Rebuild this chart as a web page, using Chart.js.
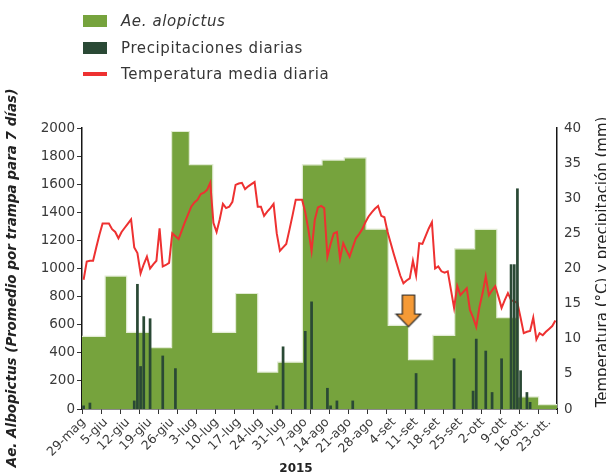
<!DOCTYPE html>
<html>
<head>
<meta charset="utf-8">
<script src="https://cdn.jsdelivr.net/npm/chart.js@4/dist/chart.umd.min.js"></script>
<style>
  html, body { margin: 0; padding: 0; background: #fff; }
  #wrap { position: relative; width: 606px; height: 473px; overflow: hidden; }
  #chart { position: absolute; left: 0; top: 0; }
  #legend { position: absolute; left: 83px; top: 0; font-family: 'DejaVu Sans', sans-serif;
            font-size: 15px; color: #363636; letter-spacing: 0.6px; }
  #legend .row { position: absolute; left: 0; height: 27px; display: flex; align-items: center; white-space: nowrap; }
  #legend .sw { width: 24px; margin-right: 14px; flex: none; }
</style>
</head>
<body>
<div id="wrap">
  <canvas id="chart" width="606" height="473"></canvas>
  <div id="legend"></div>
</div>
<script>
// Weekly labels on the date axis (day 0 = 29 May 2015, one label every 7 days)
const weekLabels = ['29-mag', '5-giu', '12-giu', '19-giu', '26-giu', '3-lug', '10-lug', '17-lug',
  '24-lug', '31-lug', '7-ago', '14-ago', '21-ago', '28-ago', '4-set', '11-set', '18-set',
  '25-set', '2-ott', '9-ott', '16-ott.', '23-ott.'];

// Trap collection periods: first day of each period (days since 29 May) and mean catch per trap
const trapStartDay = [0, 7.3, 14.1, 21.5, 28.3, 33.9, 41.3, 48.5, 55.5, 61.8, 69.6,
  75.8, 82.8, 89.7, 96.7, 103.1, 110.8, 117.7, 124.0, 131.0, 137.9, 144.2];
const trapLastDay = 150;
const aeAlbopictus = [517, 946, 545, 437, 1975, 1740, 545, 822, 263, 333, 1738,
  1772, 1788, 1280, 595, 351, 524, 1140, 1279, 650, 86, 31];

// Daily mean temperature (°C), 29 May - 25 Oct
const temperature = [
  18.4, 21.0, 21.1, 21.1, 23.0, 24.8, 26.4, 26.4, 26.4, 25.6,
  25.2, 24.3, 25.2, 25.8, 26.4, 27.0, 23.0, 22.2, 19.3, 20.6,
  21.7, 20.0, 20.6, 21.1, 25.7, 20.3, 20.5, 20.8, 25.0, 24.6,
  24.2, 25.4, 26.6, 27.7, 28.8, 29.4, 29.8, 30.6, 30.8, 31.2,
  32.2, 26.5, 25.2, 27.0, 29.2, 28.6, 28.8, 29.5, 31.9, 32.1,
  32.2, 31.3, 31.7, 32.0, 32.3, 28.8, 28.8, 27.5, 28.1, 28.6,
  29.2, 25.0, 22.5, 23.0, 23.5, 25.5, 27.6, 29.8, 29.8, 29.8,
  28.0, 25.5, 22.5, 26.9, 28.7, 28.9, 28.6, 21.7, 23.5, 25.0,
  25.2, 21.4, 23.6, 22.6, 21.7, 23.0, 24.3, 24.9, 25.6, 26.6,
  27.4, 28.0, 28.5, 28.9, 27.5, 27.3, 25.2, 23.6, 22.0, 20.5,
  19.0, 17.9, 18.3, 18.6, 21.1, 19.0, 23.6, 23.5, 24.6, 25.7,
  26.6, 20.0, 20.3, 19.6, 19.4, 19.6, 17.0, 14.4, 17.5, 16.2,
  16.7, 17.2, 14.1, 13.0, 11.7, 14.5, 16.5, 18.9, 16.2, 16.9,
  17.5, 16.0, 14.4, 15.5, 16.5, 15.5, 15.3, 15.1, 13.0, 10.8,
  11.0, 11.1, 13.0, 9.9, 10.8, 10.5, 11.0, 11.4, 11.8, 12.6
];

// Daily rainfall (mm), same days
const rainfall = [
  0.5, 0, 0.9, 0, 0, 0, 0, 0, 0, 0,
  0, 0, 0, 0, 0, 0, 1.2, 17.8, 6.1, 13.2,
  0, 12.9, 0, 0, 0, 7.6, 0, 0, 0, 5.8,
  0, 0, 0, 0, 0, 0, 0, 0, 0, 0,
  0, 0, 0, 0, 0, 0, 0, 0, 0, 0,
  0, 0, 0, 0, 0, 0, 0, 0, 0, 0,
  0, 0.5, 0, 8.9, 0, 0, 0, 0, 0, 0,
  11.1, 0, 15.3, 0, 0, 0, 0, 3.0, 0.5, 0,
  1.2, 0, 0, 0, 0, 1.2, 0, 0, 0, 0,
  0, 0, 0, 0, 0, 0, 0, 0, 0, 0,
  0, 0, 0, 0, 0, 5.1, 0, 0, 0, 0,
  0, 0, 0, 0, 0, 0, 0, 7.2, 0, 0,
  0, 0, 0, 2.6, 10.0, 0, 0, 8.3, 0, 2.4,
  0, 0, 7.2, 0, 0, 20.6, 20.6, 31.4, 5.5, 0,
  2.4, 1.0, 0, 0, 0, 0, 0, 0, 0, 0
];

// Arrow marking the start of the period after 11 September
const arrowMark = [{ x: 103.1, y: 580 }];

const leftTitle = 'Ae. Albopictus (Promedio por trampa para 7 días)';
const rightTitle = 'Temperatura (°C) y precipitación (mm)';
const bottomTitle = '2015';

const FONT = "'DejaVu Sans', sans-serif";
const TICK_COLOR = '#3a3a3a';
const AXIS_COLOR = '#161616';

// Step outline of the weekly trap catches
const trapSteps = trapStartDay.map((d, k) => ({ x: d, y: aeAlbopictus[k] }))
  .concat([{ x: trapLastDay, y: aeAlbopictus[aeAlbopictus.length - 1] }]);
const tempPoints = temperature.map((t, i) => ({ x: i + 0.5, y: t }));
const rainPoints = rainfall.map((r, i) => ({ x: i + 0.5, y: r }));

function arrowImage() {
  const c = document.createElement('canvas');
  c.width = 28; c.height = 70;
  const g = c.getContext('2d');
  const cx = 14, tip = 35;
  g.beginPath();
  g.moveTo(cx - 6.2, tip - 32.5);
  g.lineTo(cx + 6.2, tip - 32.5);
  g.lineTo(cx + 6.2, tip - 13.5);
  g.lineTo(cx + 12.3, tip - 13.5);
  g.lineTo(cx, tip - 0.8);
  g.lineTo(cx - 12.3, tip - 13.5);
  g.lineTo(cx - 6.2, tip - 13.5);
  g.closePath();
  g.fillStyle = '#f59a36';
  g.fill();
  g.lineWidth = 1.2;
  g.strokeStyle = '#262626';
  g.stroke();
  return c;
}

// Legend written as HTML from the datasets (allows italic species name)
const htmlLegend = {
  id: 'htmlLegend',
  afterUpdate(chart) {
    const box = document.getElementById('legend');
    box.innerHTML = '';
    const rowTops = [7, 34, 60];
    let r = 0;
    chart.data.datasets.forEach(ds => {
      if (!ds.legendKind) return;
      const row = document.createElement('div');
      row.className = 'row';
      row.style.top = rowTops[r++] + 'px';
      const sw = document.createElement('span');
      sw.className = 'sw';
      if (ds.legendKind === 'line') {
        sw.style.height = '4px';
        sw.style.background = ds.borderColor;
      } else {
        sw.style.height = '12px';
        sw.style.background = ds.backgroundColor;
      }
      const tx = document.createElement('span');
      tx.textContent = ds.label;
      if (ds.legendItalic) tx.style.fontStyle = 'italic';
      row.appendChild(sw);
      row.appendChild(tx);
      box.appendChild(row);
    });
  }
};

// Axis titles (right one reads bottom-to-top)
const axisTitles = {
  id: 'axisTitles',
  afterDraw(chart) {
    const ctx = chart.ctx;
    ctx.save();
    ctx.fillStyle = '#222';
    ctx.textAlign = 'center';

    ctx.font = 'italic bold 13.5px ' + FONT;
    ctx.textBaseline = 'middle';
    ctx.setTransform(1, 0, 0, 1, 12, 278);
    ctx.rotate(-Math.PI / 2);
    ctx.fillText(leftTitle, 0, 0);

    ctx.font = '15px ' + FONT;
    ctx.textBaseline = 'alphabetic';
    ctx.setTransform(1, 0, 0, 1, 607, 262);
    ctx.rotate(-Math.PI / 2);
    ctx.fillText(rightTitle, 0, 0);

    ctx.setTransform(1, 0, 0, 1, 0, 0);
    ctx.font = 'bold 12px ' + FONT;
    ctx.fillText(bottomTitle, 296, 472);
    ctx.restore();
  }
};

Chart.defaults.font.family = FONT;
Chart.defaults.color = TICK_COLOR;

const plainNumber = v => String(v);

new Chart(document.getElementById('chart'), {
  data: {
    datasets: [
      {
        type: 'line',
        label: 'Ae. alopictus',
        legendKind: 'box',
        legendItalic: true,
        data: trapSteps,
        yAxisID: 'y',
        xAxisID: 'x',
        stepped: 'before',
        fill: 'origin',
        backgroundColor: '#76a33d',
        borderColor: 'rgba(226, 236, 212, 1)',
        borderWidth: 1.2,
        pointRadius: 0,
        order: 3
      },
      {
        type: 'bar',
        label: 'Precipitaciones diarias',
        legendKind: 'box',
        data: rainPoints,
        yAxisID: 'y2',
        xAxisID: 'x',
        backgroundColor: '#2a4935',
        borderWidth: 0,
        categoryPercentage: 1,
        barPercentage: 0.86,
        order: 1
      },
      {
        type: 'line',
        label: 'Temperatura media diaria',
        legendKind: 'line',
        data: tempPoints,
        yAxisID: 'y2',
        xAxisID: 'x',
        borderColor: '#ee3131',
        backgroundColor: '#ee3131',
        borderWidth: 2,
        pointRadius: 0,
        tension: 0,
        fill: false,
        order: 2
      },
      {
        type: 'scatter',
        label: 'arrow',
        data: arrowMark,
        yAxisID: 'y',
        xAxisID: 'x',
        pointStyle: arrowImage(),
        order: 0
      }
    ]
  },
  options: {
    responsive: false,
    animation: false,
    events: [],
    layout: { padding: { top: 128, left: 0, right: 0, bottom: 0 } },
    plugins: { legend: { display: false }, tooltip: { enabled: false } },
    scales: {
      x: {
        type: 'linear',
        position: 'bottom',
        weight: 0,
        offset: false,
        min: 0,
        max: 150,
        afterBuildTicks(s) {
          const t = [];
          for (let v = 0; v <= 150; v += 6) t.push({ value: v });
          s.ticks = t;
        },
        ticks: { display: false },
        grid: { display: true, offset: false, drawOnChartArea: false, drawTicks: true, tickLength: 5, tickColor: '#333', tickWidth: 1 },
        border: { display: true, color: AXIS_COLOR, width: 1.5 }
      },
      xl: {
        type: 'linear',
        position: 'bottom',
        weight: 1,
        offset: false,
        min: 0,
        max: 150,
        afterBuildTicks(s) {
          s.ticks = weekLabels.map((_, k) => ({ value: 7 * k + 0.5 }));
        },
        afterFit(s) { s.height = 59; },
        ticks: {
          autoSkip: false,
          minRotation: 45,
          maxRotation: 45,
          padding: 1,
          font: { size: 12.5 },
          color: TICK_COLOR,
          callback: (v, i) => weekLabels[i]
        },
        grid: { display: false, drawTicks: false, offset: false },
        border: { display: false }
      },
      y: {
        type: 'linear',
        position: 'left',
        min: 0,
        max: 2000,
        afterFit(s) { s.width = 82; },
        ticks: { stepSize: 200, padding: 2, font: { size: 13.5 }, color: TICK_COLOR, callback: plainNumber },
        grid: { display: true, drawOnChartArea: false, drawTicks: true, tickLength: 5, tickColor: '#333' },
        border: { display: true, color: AXIS_COLOR, width: 1.5 }
      },
      y2: {
        type: 'linear',
        position: 'right',
        min: 0,
        max: 40,
        afterFit(s) { s.width = 49; },
        ticks: { stepSize: 5, padding: 7, font: { size: 13.5 }, color: TICK_COLOR, callback: plainNumber },
        grid: { display: false, drawTicks: false },
        border: { display: true, color: AXIS_COLOR, width: 1.5 }
      }
    }
  },
  plugins: [htmlLegend, axisTitles]
});
</script>
</body>
</html>
